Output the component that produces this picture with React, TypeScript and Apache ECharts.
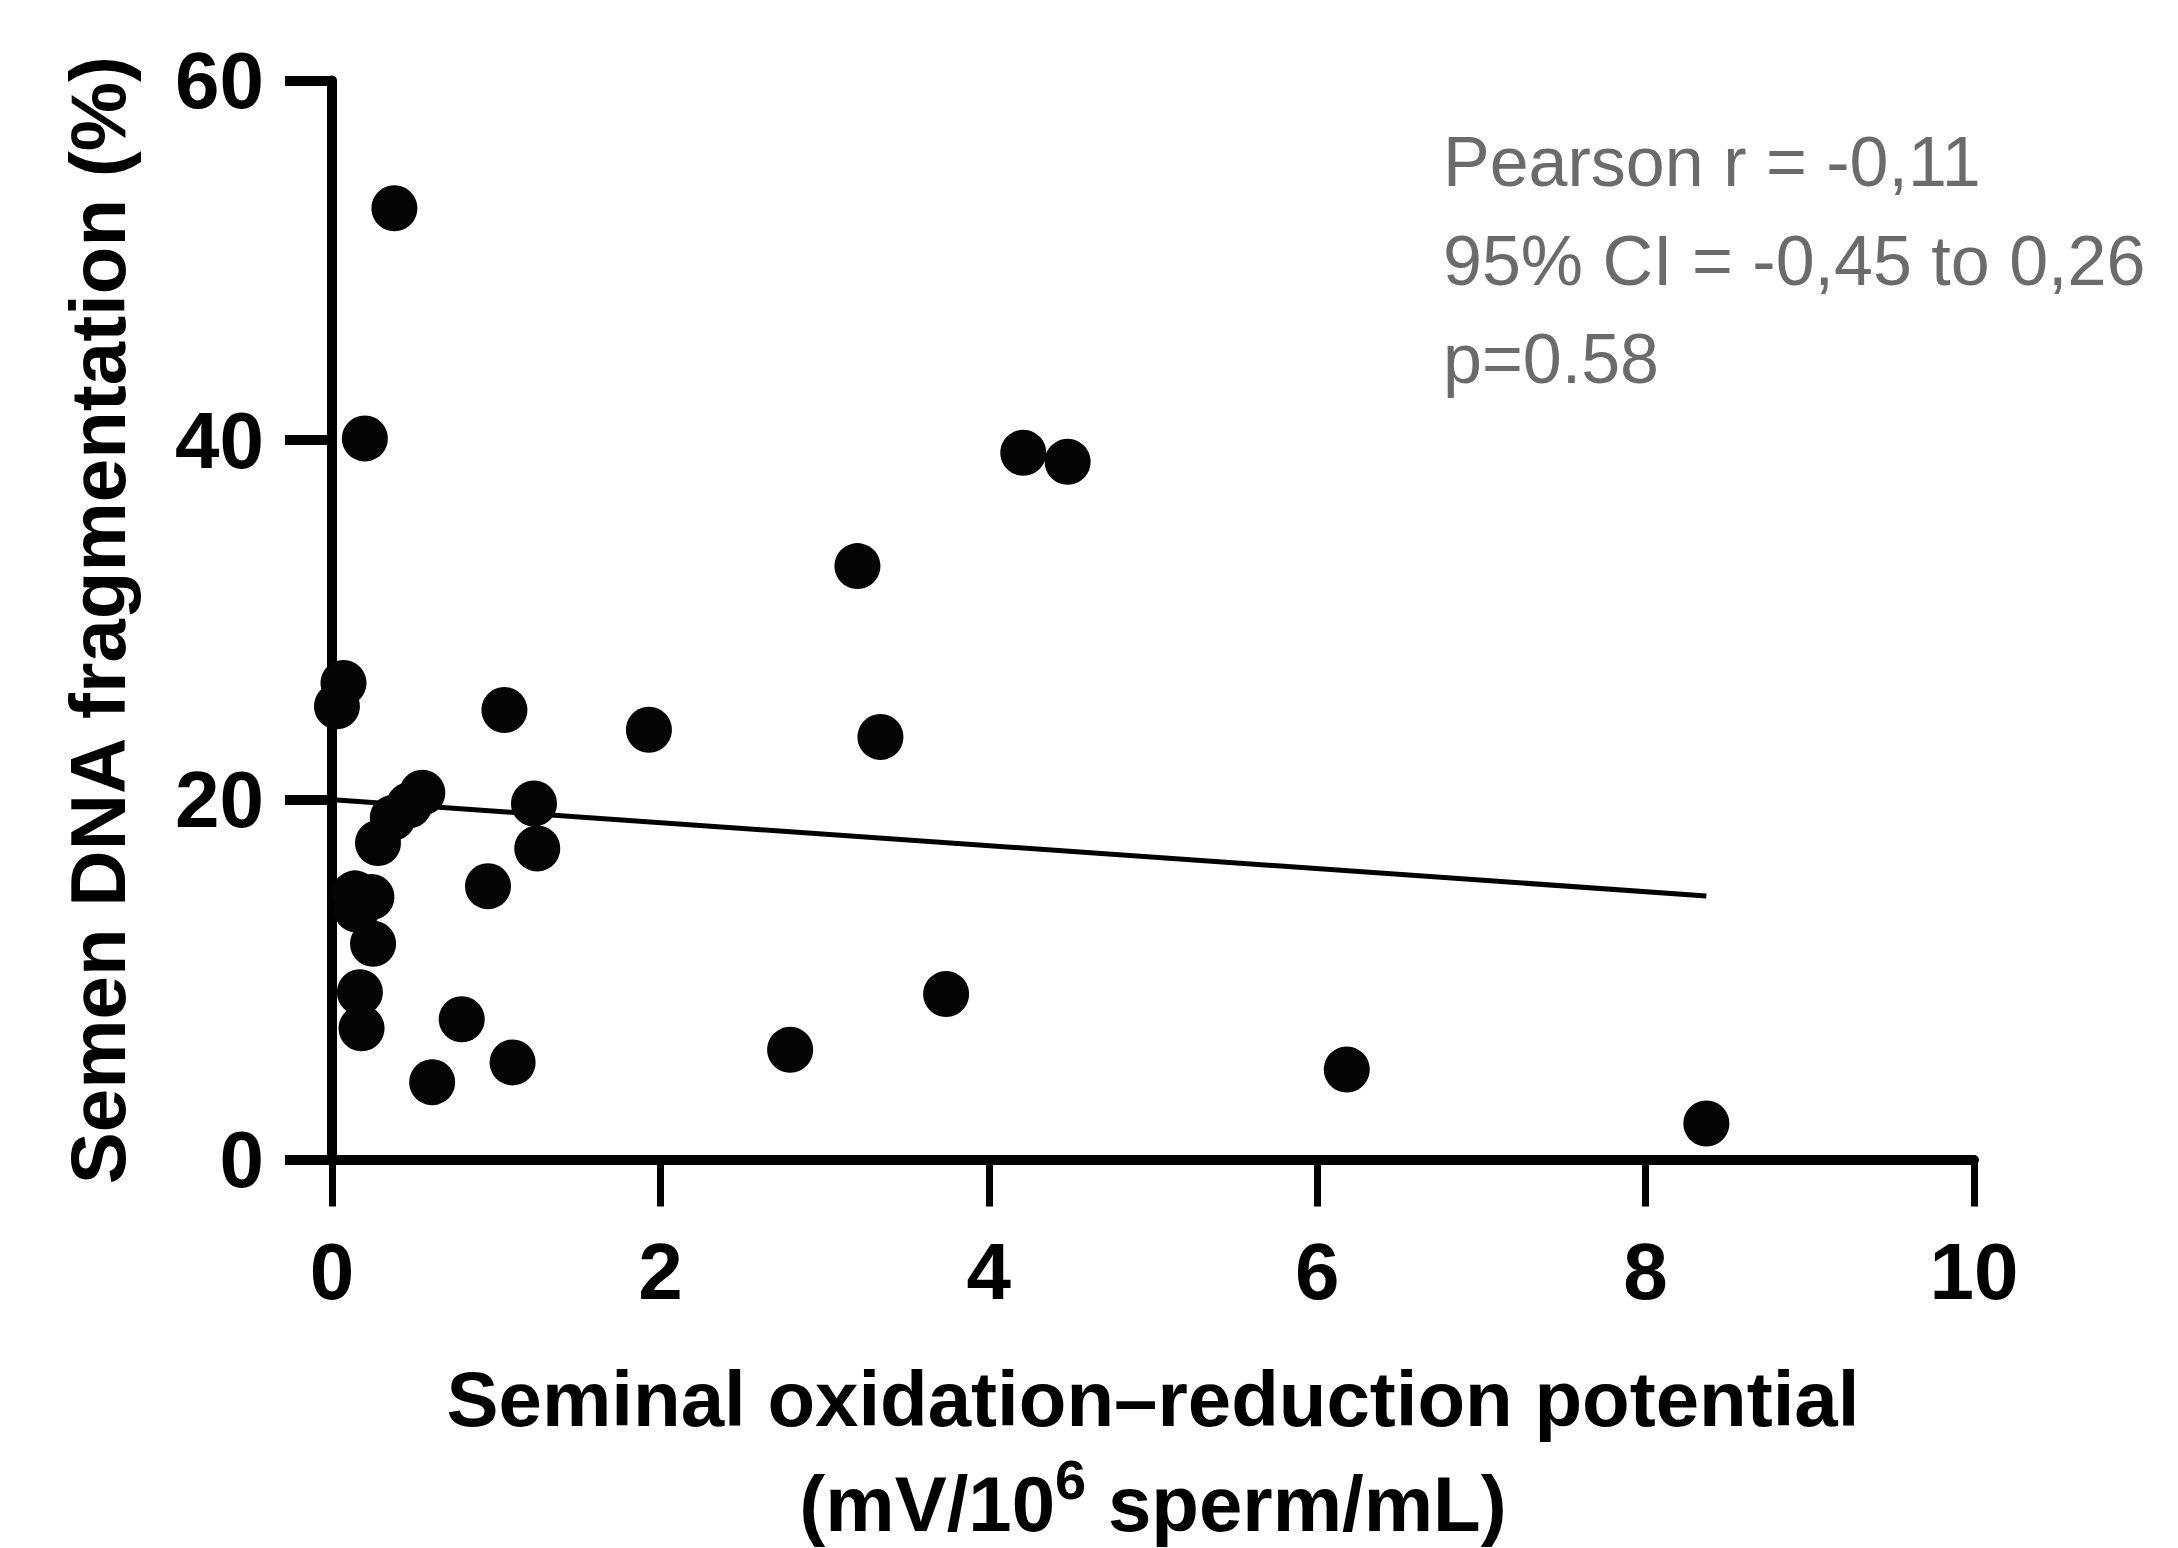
import React, { useEffect, useRef } from "react";
import * as echarts from "echarts";

const oxidationX = [0.38, 0.20, 0.07, 0.03, 4.21, 4.48, 3.20, 3.34, 1.93, 1.05, 0.55, 0.47, 0.37, 0.28, 1.23, 1.25, 0.95, 0.14, 0.24, 0.15, 0.25, 0.17, 0.18, 0.79, 0.61, 1.10, 2.79, 3.74, 6.18, 8.37];
const fragmentationY = [52.9, 40.1, 26.5, 25.2, 39.3, 38.8, 33.0, 23.5, 23.9, 25.0, 20.4, 19.7, 19.0, 17.6, 19.8, 17.3, 15.2, 14.8, 14.6, 13.9, 12.0, 9.3, 7.3, 7.8, 4.3, 5.4, 6.1, 9.2, 5.0, 2.0];
const fitX = [0.03, 8.37];
const fitY = [19.99, 14.66];
const xTicks = [0, 2, 4, 6, 8, 10];
const yTicks = [0, 20, 40, 60];
const statLines = ["Pearson r = -0,11", "95% CI = -0,45 to 0,26", "p=0.58"];

const FONT = '"Liberation Sans", Arial, Helvetica, sans-serif';

export default function App() {
  const ref = useRef<HTMLDivElement>(null);
  useEffect(() => {
    if (!ref.current) return;
    const chart = echarts.init(ref.current, null, { renderer: "svg" });
    const statY = [162, 261, 359];
    chart.setOption({
      animation: false,
      backgroundColor: "#ffffff",
      grid: { left: 332, top: 80.6, width: 1642, height: 1096, containLabel: false },
      xAxis: {
        type: "value",
        min: xTicks[0],
        max: xTicks[xTicks.length - 1],
        interval: xTicks[1] - xTicks[0],
        splitLine: { show: false },
        axisLine: { show: true, lineStyle: { color: "#000", width: 10 } },
        axisTick: { show: true, length: 47, lineStyle: { color: "#000", width: 7 } },
        axisLabel: { fontSize: 80, fontWeight: "bold", color: "#000", fontFamily: FONT, margin: 72 },
        name: "{a|Seminal oxidation–reduction potential}\n{a|(mV/10}{s|6}{a| sperm/mL)}",
        nameLocation: "middle",
        nameGap: 187,
        nameTextStyle: {
          rich: {
            a: { fontSize: 78, fontWeight: "bold", fontFamily: FONT, color: "#000", lineHeight: 105 },
            s: { fontSize: 56, fontWeight: "bold", fontFamily: FONT, color: "#000", lineHeight: 56, verticalAlign: "top" },
          },
        },
      },
      yAxis: {
        type: "value",
        min: yTicks[0],
        max: yTicks[yTicks.length - 1],
        interval: yTicks[1] - yTicks[0],
        splitLine: { show: false },
        axisLine: { show: true, lineStyle: { color: "#000", width: 10 } },
        axisTick: { show: true, length: 47, lineStyle: { color: "#000", width: 10 } },
        axisLabel: { fontSize: 80, fontWeight: "bold", color: "#000", fontFamily: FONT, margin: 68 },
        name: "Semen DNA fragmentation (%)",
        nameLocation: "middle",
        nameGap: 195,
        nameTextStyle: { fontSize: 78, fontWeight: "bold", fontFamily: FONT, color: "#000" },
      },
      graphic: statLines.map((t, i) => ({
        type: "text",
        x: 1443,
        y: statY[i],
        style: { text: t, font: `70px ${FONT}`, fill: "#6b6b6b", verticalAlign: "middle", align: "left" },
      })),
      series: [
        {
          type: "line",
          data: fitX.map((x, i) => [x, fitY[i]]),
          symbol: "none",
          lineStyle: { color: "#000", width: 5 },
          z: 2,
        },
        {
          type: "scatter",
          data: oxidationX.map((x, i) => [x, fragmentationY[i]]),
          symbol: "circle",
          symbolSize: 46,
          itemStyle: { color: "#050505", opacity: 1 },
          z: 3,
        },
      ],
    });
    return () => chart.dispose();
  }, []);
  return (
    <div
      ref={ref}
      style={{ position: "fixed", left: 0, top: 0, width: 2178, height: 1548, background: "#fff" }}
    />
  );
}
